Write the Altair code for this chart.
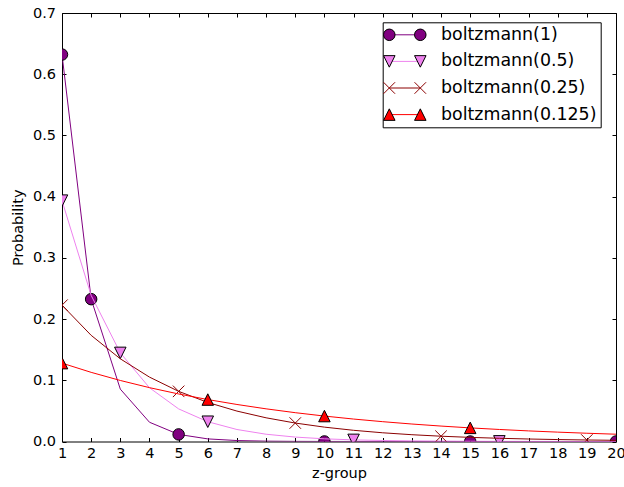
import altair as alt
import pandas as pd

# z-groups on the x axis
Z = list(range(1, 21))

# decay rates and their series names
LAMBDAS = ["1", "0.5", "0.25", "0.125"]
SERIES = ["boltzmann(1)", "boltzmann(0.5)", "boltzmann(0.25)", "boltzmann(0.125)"]

# probability of each z-group, one list per decay rate
P_1 = [0.63212, 0.23254, 0.08555, 0.03147, 0.01158, 0.00426, 0.00157, 0.000577,
       0.000212, 0.0000781, 0.0000287, 0.0000106, 0.0000039, 0.0000014,
       0.00000053, 0.00000019, 0.00000007, 0.00000003, 0.00000001, 0.000000004]
P_05 = [0.39349, 0.23866, 0.14476, 0.08780, 0.05325, 0.03230, 0.01959, 0.01188,
        0.00721, 0.00437, 0.00265, 0.00161, 0.000976, 0.000592, 0.000359,
        0.000218, 0.000132, 0.0000801, 0.0000486, 0.0000295]
P_025 = [0.22270, 0.17344, 0.13507, 0.10519, 0.08192, 0.06380, 0.04969, 0.03870,
         0.03014, 0.02347, 0.01828, 0.01424, 0.01109, 0.00863, 0.00672, 0.00524,
         0.00408, 0.00318, 0.00247, 0.00193]
P_0125 = [0.12801, 0.11297, 0.09970, 0.08798, 0.07764, 0.06852, 0.06047, 0.05336,
          0.04709, 0.04156, 0.03668, 0.03237, 0.02856, 0.02521, 0.02225, 0.01963,
          0.01733, 0.01529, 0.01349, 0.01191]
PROBS = [P_1, P_05, P_025, P_0125]

# z-groups that carry a marker, per series
MARK_Z = [
    [1, 2, 5, 10, 15, 20],
    [1, 3, 6, 11, 16],
    [1, 5, 9, 14, 19],
    [1, 6, 10, 15],
]

Y_TICKS = [0.0, 0.1, 0.2, 0.3, 0.4, 0.5, 0.6, 0.7]

# styling
COLORS = ["#800080", "#ee82ee", "#8b0000", "#ff0000"]
EDGES = ["black", "black", "#8b0000", "black"]
FONT = "DejaVu Sans"

TRI_UP = "M0,-1L1,1L-1,1Z"
TRI_DOWN = "M0,1L1,-1L-1,-1Z"
CROSS = "M-1,-1L1,1M-1,1L1,-1"
MARK_SHAPES = ["circle", TRI_DOWN, CROSS, TRI_UP]
MARK_FILLED = [True, True, False, True]

# legend glyphs: a pair of markers either side of a shifted centre
SHIFT = 1.2
OFF = 1.9375
R = 0.72


def circle_at(c):
    return f"M{c - R},0A{R},{R},0,1,0,{c + R},0A{R},{R},0,1,0,{c - R},0Z"


def tri_down_at(c):
    return f"M{c - R},{-R}L{c + R},{-R}L{c},{R}Z"


def tri_up_at(c):
    return f"M{c},{-R}L{c + R},{R}L{c - R},{R}Z"


def cross_at(c):
    return f"M{c - R},{-R}L{c + R},{R}M{c - R},{R}L{c + R},{-R}"


def pair(fn):
    return fn(round(SHIFT - OFF, 4)) + " " + fn(round(SHIFT + OFF, 4))


LEGEND_SHAPES = [pair(circle_at), pair(tri_down_at), pair(cross_at), pair(tri_up_at)]
LINE_GLYPH = f"M{round(SHIFT - OFF, 4)},0L{round(SHIFT + OFF, 4)},0"

W, H = 554, 428.5

tables = [
    pd.DataFrame({"z": Z, "p": probs, "lam": lam, "series": name})
    for lam, name, probs in zip(LAMBDAS, SERIES, PROBS)
]
all_rows = pd.concat(tables, ignore_index=True)

X_SCALE = alt.Scale(domain=[1, 20], nice=False, zero=False)
Y_SCALE = alt.Scale(domain=[0, 0.7], nice=False, zero=False)

X_AXIS = alt.Axis(orient="bottom", values=Z, format="d", offset=-4, tickSize=4,
                  labelPadding=5, domain=False, grid=False, labelFlush=False,
                  labelOverlap=False, title="z-group", titleBaseline="alphabetic",
                  titleY=39.5)
Y_AXIS = alt.Axis(orient="left", values=Y_TICKS, format=".1f", offset=-4, tickSize=4,
                  labelPadding=6.5, domain=False, grid=False, labelFlush=False,
                  labelOverlap=False, title="Probability", titleAngle=270,
                  titleBaseline="alphabetic", titleX=-44)
X_TOP = alt.Axis(orient="top", values=Z, offset=-4, tickSize=4, labels=False,
                 domain=False, grid=False, title=None)
Y_RIGHT = alt.Axis(orient="right", values=Y_TICKS, offset=-4, tickSize=4, labels=False,
                   domain=False, grid=False, title=None)

LEGEND_COMMON = dict(
    orient="none", legendX=320.7, legendY=9.3, symbolSize=256, symbolStrokeWidth=1,
    symbolOffset=0, labelOffset=37.1, labelFont=FONT, labelFontSize=17.4,
    labelColor="black", labelLimit=300, padding=3.8, rowPadding=7.6,
)
# the framed legend draws the coloured line segments and the labels;
# a second, frameless legend lays the marker pairs over it
LINE_LEGEND = alt.Legend(symbolType=LINE_GLYPH, strokeColor="black",
                         labelExpr="'boltzmann(' + datum.label + ')'",
                         **LEGEND_COMMON)
MARKER_LEGEND = alt.Legend(labelOpacity=0, **LEGEND_COMMON)

layers = []
for i, df in enumerate(tables):
    line = alt.Chart(df).mark_line(strokeWidth=1, clip=True).encode(
        x=alt.X("z:Q", scale=X_SCALE, axis=X_AXIS if i == 0 else None),
        y=alt.Y("p:Q", scale=Y_SCALE, axis=Y_AXIS if i == 0 else None),
        color=alt.Color("lam:N", scale=alt.Scale(domain=LAMBDAS, range=COLORS),
                        title=None, legend=LINE_LEGEND),
    )
    marked = df[df["z"].isin(MARK_Z[i])]
    if MARK_FILLED[i]:
        mark = alt.Chart(marked).mark_point(
            shape=MARK_SHAPES[i], filled=True, fill=COLORS[i], stroke="black",
            strokeWidth=1, size=132, opacity=1, clip=True)
    else:
        mark = alt.Chart(marked).mark_point(
            shape=MARK_SHAPES[i], filled=False, stroke=COLORS[i],
            strokeWidth=1, size=132, opacity=1, clip=True)
    mark = mark.encode(
        x=alt.X("z:Q", scale=X_SCALE, axis=None),
        y=alt.Y("p:Q", scale=Y_SCALE, axis=None),
    )
    layers += [line, mark]

# legend glyphs plus the inward ticks on the top and right frame edges
legend_layer = alt.Chart(all_rows).transform_filter("false").mark_point(
    filled=True, opacity=1, strokeWidth=1
).encode(
    x=alt.X("z:Q", scale=X_SCALE, axis=X_TOP),
    y=alt.Y("p:Q", scale=Y_SCALE, axis=Y_RIGHT),
    shape=alt.Shape("series:N", scale=alt.Scale(domain=SERIES, range=LEGEND_SHAPES),
                    title=None, legend=MARKER_LEGEND),
    fill=alt.Fill("series:N", scale=alt.Scale(domain=SERIES, range=COLORS),
                  title=None, legend=MARKER_LEGEND),
    stroke=alt.Stroke("series:N", scale=alt.Scale(domain=SERIES, range=EDGES),
                      title=None, legend=MARKER_LEGEND),
)
layers.append(legend_layer)

chart = alt.layer(*layers).resolve_axis(
    x="independent", y="independent"
).properties(
    width=W, height=H, autosize="none", background="white",
    padding={"left": 62, "top": 13, "right": 8, "bottom": 45.5},
).configure_view(
    stroke="black", strokeWidth=1
).configure_axis(
    labelFont=FONT, labelFontSize=14.5, labelColor="black", tickColor="black",
    tickWidth=1, titleFont=FONT, titleFontSize=14.5, titleFontWeight="normal",
    titleColor="black",
)

chart.save("out.html", embed_options={"renderer": "svg", "actions": False})
